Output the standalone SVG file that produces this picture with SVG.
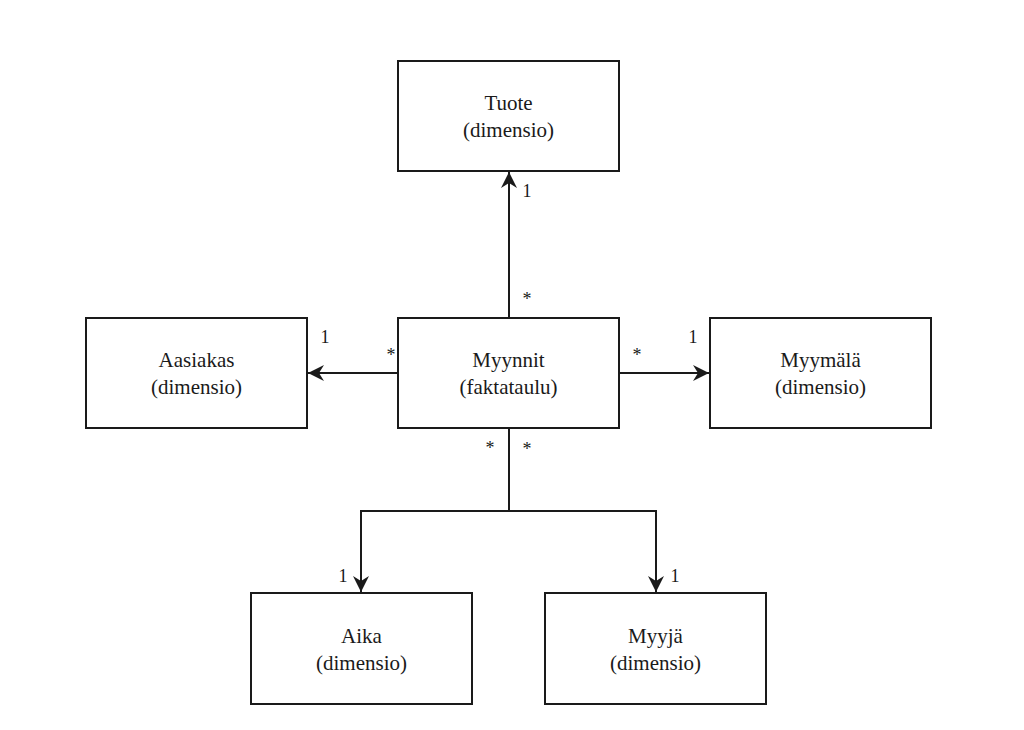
<svg xmlns="http://www.w3.org/2000/svg" width="1024" height="730" viewBox="0 0 1024 730">
<style>
.box{fill:#fff;stroke:#1a1a1a;stroke-width:2}
.t{font-family:"Liberation Serif","Times New Roman",serif;font-size:21px;fill:#1a1a1a;text-anchor:middle}
.m{font-family:"Liberation Serif","Times New Roman",serif;font-size:18px;fill:#1a1a1a;text-anchor:middle}
.c{fill:none;stroke:#1a1a1a;stroke-width:2}
</style>
<defs>
<marker id="arr" markerUnits="userSpaceOnUse" markerWidth="18" markerHeight="18" viewBox="-1 -9 18 18" refX="16" refY="0" orient="auto">
<path d="M0,-8 L16,0 L0,8 L5,0 Z" fill="#1a1a1a"/>
</marker>
</defs>
<rect width="1024" height="730" fill="#fff"/>
<g id="connectors">
<path class="c" d="M509,318 V172" marker-end="url(#arr)"/>
<path class="c" d="M398,373 H308" marker-end="url(#arr)"/>
<path class="c" d="M619,373 H709" marker-end="url(#arr)"/>
<path class="c" d="M509,428 V511 H361 V592" marker-end="url(#arr)"/>
<path class="c" d="M509,511 H656 V592" marker-end="url(#arr)"/>
<text class="m" x="527" y="197">1</text>
<text class="m" x="527" y="305">*</text>
<text class="m" x="325" y="343">1</text>
<text class="m" x="391" y="361">*</text>
<text class="m" x="637" y="361">*</text>
<text class="m" x="693" y="343">1</text>
<text class="m" x="490" y="454">*</text>
<text class="m" x="527" y="455">*</text>
<text class="m" x="343" y="582">1</text>
<text class="m" x="675" y="582">1</text>
</g>
<g id="tuote">
<rect class="box" x="398" y="61" width="221" height="110"/>
<text class="t" x="508.5" y="110">Tuote</text>
<text class="t" x="508.5" y="137">(dimensio)</text>
</g>
<g id="myynnit">
<rect class="box" x="398" y="318" width="221" height="110"/>
<text class="t" x="508.5" y="367">Myynnit</text>
<text class="t" x="508.5" y="394">(faktataulu)</text>
</g>
<g id="aasiakas">
<rect class="box" x="86" y="318" width="221" height="110"/>
<text class="t" x="196.5" y="367">Aasiakas</text>
<text class="t" x="196.5" y="394">(dimensio)</text>
</g>
<g id="myymala">
<rect class="box" x="710" y="318" width="221" height="110"/>
<text class="t" x="820.5" y="367">Myymälä</text>
<text class="t" x="820.5" y="394">(dimensio)</text>
</g>
<g id="aika">
<rect class="box" x="251" y="593" width="221" height="111"/>
<text class="t" x="361.5" y="643">Aika</text>
<text class="t" x="361.5" y="670">(dimensio)</text>
</g>
<g id="myyja">
<rect class="box" x="545" y="593" width="221" height="111"/>
<text class="t" x="655.5" y="643">Myyjä</text>
<text class="t" x="655.5" y="670">(dimensio)</text>
</g>
</svg>
